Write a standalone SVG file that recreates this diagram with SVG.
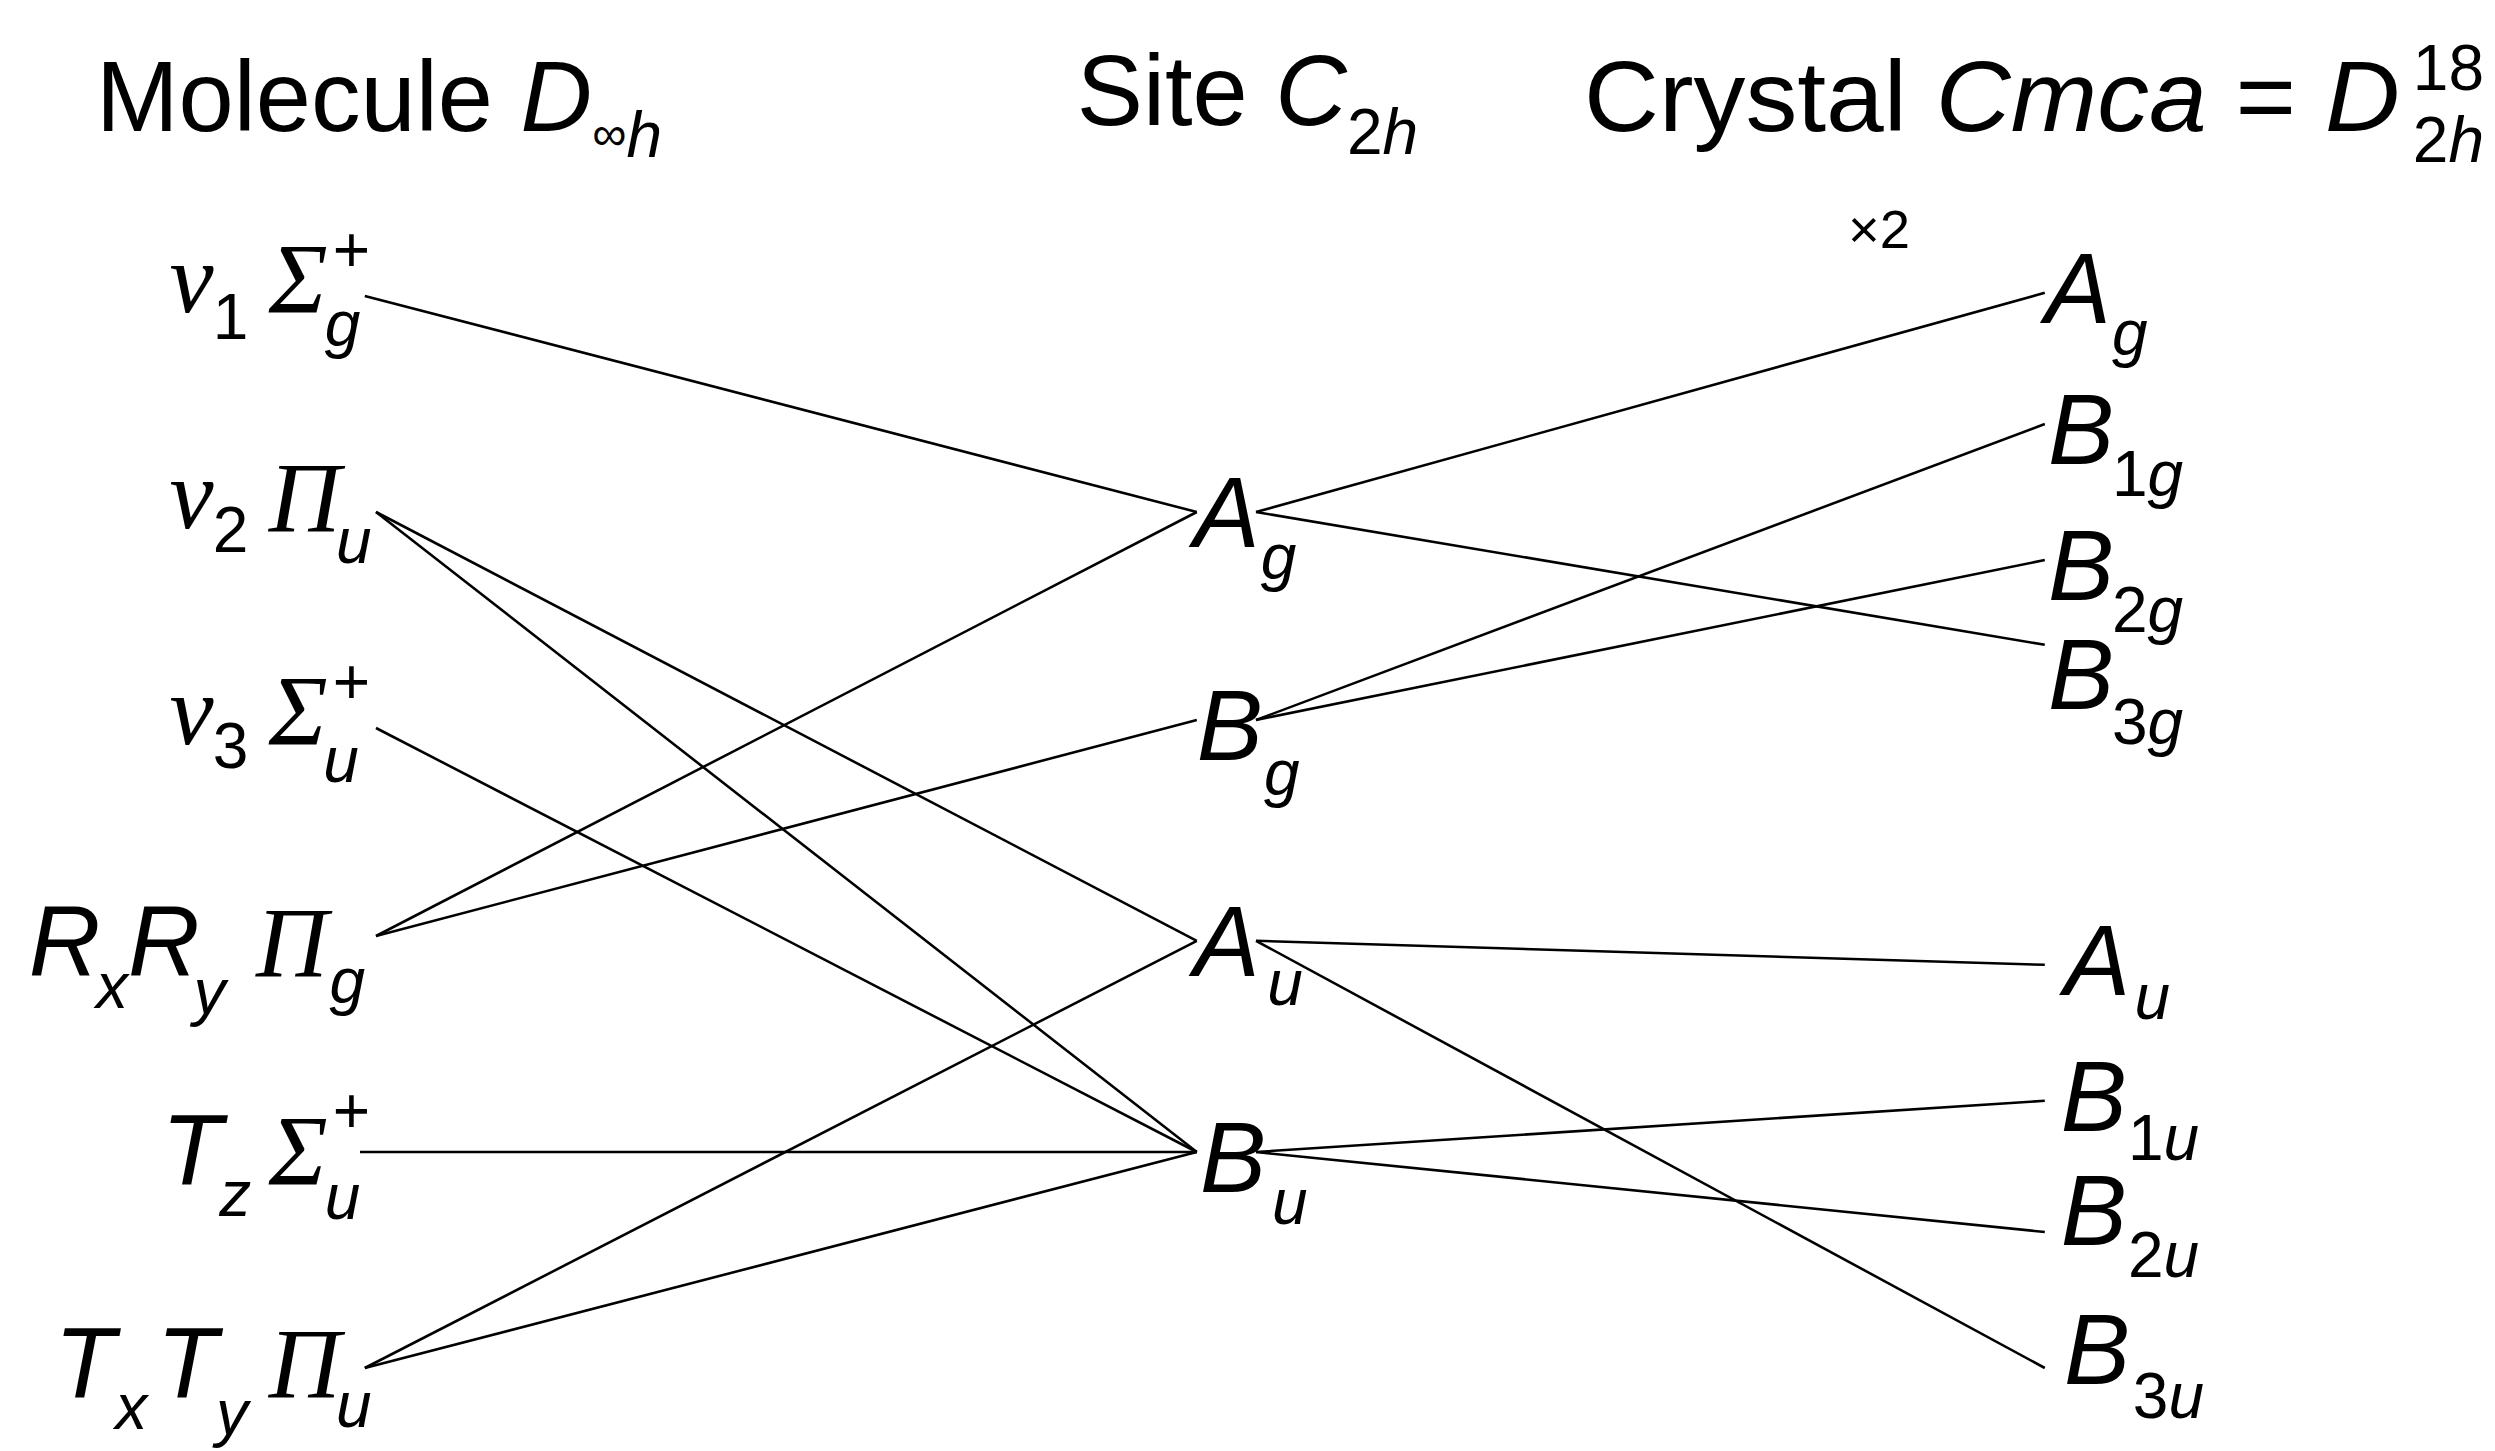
<svg xmlns="http://www.w3.org/2000/svg" width="2495" height="1451" viewBox="0 0 2495 1451">
<style>
text{font-family:"Liberation Sans",Arial,sans-serif;fill:#000}
.h{font-size:62px}
.b{font-size:62px;font-style:italic}
.s{font-size:40px}
.si{font-size:40px;font-style:italic}
.g{font-family:"Liberation Serif","Times New Roman",serif;font-style:italic;font-size:62px}
line{stroke:#000;stroke-width:1.6}
</style>
<rect width="2495" height="1451" fill="#fff"/>
<g transform="scale(1.6)">
<g id="headers">
<text class="h" x="60" y="82">Molecule <tspan font-style="italic">D</tspan><tspan font-size="30" dy="12">∞</tspan><tspan font-size="40" font-style="italic" dy="4">h</tspan></text>
<text class="h" x="673" y="78">Site <tspan font-style="italic">C</tspan><tspan font-size="40" dy="18">2</tspan><tspan font-size="40" font-style="italic">h</tspan></text>
<text class="h" x="990" y="82" textLength="510" lengthAdjust="spacingAndGlyphs">Crystal <tspan font-style="italic">Cmca</tspan> = <tspan font-style="italic">D</tspan></text>
<text class="s" x="1508" y="56">18</text>
<text class="s" x="1508" y="101">2<tspan font-style="italic">h</tspan></text>
<text x="1155" y="155" font-size="34">×2</text>
</g>
<g id="connectors">
<line x1="228" y1="185" x2="748" y2="320"/>
<line x1="235" y1="320" x2="748" y2="588"/>
<line x1="235" y1="320" x2="748" y2="720"/>
<line x1="235" y1="455" x2="748" y2="720"/>
<line x1="235" y1="585" x2="748" y2="320"/>
<line x1="235" y1="585" x2="748" y2="450"/>
<line x1="225" y1="720" x2="748" y2="720"/>
<line x1="228" y1="855" x2="748" y2="588"/>
<line x1="228" y1="855" x2="748" y2="720"/>
<line x1="785" y1="320" x2="1278" y2="183"/>
<line x1="785" y1="320" x2="1278" y2="403"/>
<line x1="785" y1="450" x2="1278" y2="265"/>
<line x1="785" y1="450" x2="1278" y2="350"/>
<line x1="785" y1="588" x2="1278" y2="603"/>
<line x1="785" y1="588" x2="1278" y2="855"/>
<line x1="785" y1="720" x2="1278" y2="688"/>
<line x1="785" y1="720" x2="1278" y2="770"/>
</g>
<g id="mol-v1"><text class="g" x="106" y="195">ν</text><text class="s" x="133" y="212">1</text><text class="g" x="168" y="195">Σ</text><text class="si" x="203" y="216">g</text><text class="s" x="208" y="170">+</text></g>
<g id="mol-v2"><text class="g" x="106" y="330">ν</text><text class="s" x="133" y="345">2</text><text class="g" x="168" y="332">Π</text><text class="si" x="210" y="352">u</text></g>
<g id="mol-v3"><text class="g" x="106" y="465">ν</text><text class="s" x="133" y="480">3</text><text class="g" x="168" y="465">Σ</text><text class="si" x="202" y="489">u</text><text class="s" x="208" y="440">+</text></g>
<g id="mol-R"><text class="b" x="18" y="610">R</text><text class="si" x="60" y="630">x</text><text class="b" x="80" y="610">R</text><text class="si" x="121" y="634">y</text><text class="g" x="160" y="610">Π</text><text class="si" x="206" y="627">g</text></g>
<g id="mol-Tz"><text class="b" x="101" y="740">T</text><text class="si" x="137" y="760">z</text><text class="g" x="168" y="740">Σ</text><text class="si" x="203" y="762">u</text><text class="s" x="208" y="708">+</text></g>
<g id="mol-TxTy"><text class="b" x="34" y="873">T</text><text class="si" x="72" y="893">x</text><text class="b" x="98" y="873">T</text><text class="si" x="135" y="897">y</text><text class="g" x="168" y="873">Π</text><text class="si" x="210" y="892">u</text></g>
<g id="site-Ag"><text class="b" x="746" y="342">A</text><text class="si" x="788" y="362">g</text></g>
<g id="site-Bg"><text class="b" x="748" y="475">B</text><text class="si" x="790" y="497">g</text></g>
<g id="site-Au"><text class="b" x="746" y="610">A</text><text class="si" x="792" y="628">u</text></g>
<g id="site-Bu"><text class="b" x="750" y="745">B</text><text class="si" x="795" y="765">u</text></g>
<g id="cr-Ag"><text class="b" x="1278" y="202">A</text><text class="si" x="1320" y="222">g</text></g>
<g id="cr-B1g"><text class="b" x="1280" y="290">B</text><text class="s" x="1320" y="310">1<tspan font-style="italic">g</tspan></text></g>
<g id="cr-B2g"><text class="b" x="1280" y="375">B</text><text class="s" x="1320" y="395">2<tspan font-style="italic">g</tspan></text></g>
<g id="cr-B3g"><text class="b" x="1280" y="443">B</text><text class="s" x="1320" y="465">3<tspan font-style="italic">g</tspan></text></g>
<g id="cr-Au"><text class="b" x="1290" y="622">A</text><text class="si" x="1334" y="637">u</text></g>
<g id="cr-B1u"><text class="b" x="1288" y="707">B</text><text class="s" x="1330" y="725">1<tspan font-style="italic">u</tspan></text></g>
<g id="cr-B2u"><text class="b" x="1288" y="778">B</text><text class="s" x="1330" y="798">2<tspan font-style="italic">u</tspan></text></g>
<g id="cr-B3u"><text class="b" x="1290" y="865">B</text><text class="s" x="1333" y="886">3<tspan font-style="italic">u</tspan></text></g>
</g>
</svg>
